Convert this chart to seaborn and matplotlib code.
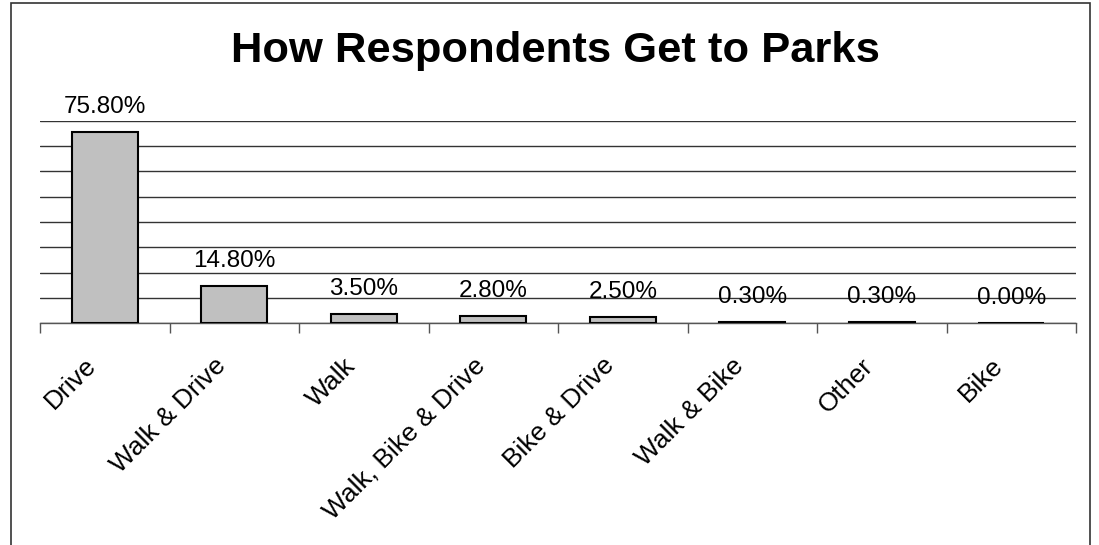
import numpy as np
import pandas as pd
import matplotlib
matplotlib.use("Agg")
import matplotlib.pyplot as plt
from matplotlib.patches import Rectangle
from matplotlib.transforms import ScaledTranslation
import seaborn as sns

categories = ["Drive", "Walk & Drive", "Walk", "Walk, Bike & Drive",
              "Bike & Drive", "Walk & Bike", "Other", "Bike"]
shares = [75.80, 14.80, 3.50, 2.80, 2.50, 0.30, 0.30, 0.00]
title = "How Respondents Get to Parks"

sns.set_theme(style="white")
plt.rcParams["font.family"] = ["Liberation Sans", "DejaVu Sans"]

W, H = 1099, 545
fig = plt.figure(figsize=(W / 100, H / 100), dpi=100)
fig.patch.set_facecolor("white")

# outer chart frame (runs past the lower edge)
fig.patches.append(Rectangle((11 / W, -0.05), (1090 - 11) / W, 1.05 - 3 / H,
                             transform=fig.transFigure, fill=False,
                             edgecolor="#333333", linewidth=1.2))

ax = fig.add_axes([40 / W, (H - 323) / H, (1076 - 40) / W, (323 - 121) / H])
df = pd.DataFrame({"mode": categories, "share": shares})
sns.barplot(data=df, x="mode", y="share", color="#C0C0C0", edgecolor="black",
            linewidth=1.5, width=0.51, saturation=1, ax=ax, zorder=3)

ax.set_ylim(0, 80)
ax.set_xlim(-0.5, len(categories) - 0.5)
ax.set_yticks(np.arange(0, 81, 10))
ax.set_yticklabels([])
ax.tick_params(axis="y", length=0)
ax.yaxis.grid(True, color="#333333", linewidth=1.0, zorder=0)
ax.xaxis.grid(False)
ax.set_axisbelow(True)
for side in ["left", "right", "top"]:
    ax.spines[side].set_visible(False)
ax.spines["bottom"].set_color("#555555")
ax.spines["bottom"].set_linewidth(1.0)

# category boundary ticks
ax.set_xticks(np.arange(-0.5, len(categories), 1), minor=True)
ax.tick_params(axis="x", which="minor", bottom=True, length=7, width=1,
               color="#555555", direction="out")
ax.set_xticks(np.arange(len(categories)))
ax.tick_params(axis="x", which="major", bottom=True, length=0, pad=28)
ax.set_xticklabels(categories, rotation=45, ha="right", va="center",
                   rotation_mode="anchor", fontsize=19, color="black")
shift = ScaledTranslation(-12 / 100, 0, fig.dpi_scale_trans)
for lab in ax.get_xticklabels():
    lab.set_transform(lab.get_transform() + shift)
ax.set_xlabel("")
ax.set_ylabel("")

ax.bar_label(ax.containers[0], labels=[f"{v:.2f}%" for v in shares],
             padding=10, fontsize=17.5, color="black")

fig.text(555 / W, 1 - 51 / H, title, ha="center", va="center",
         fontsize=31.3, fontweight="bold", color="black")

fig.savefig("out.png", dpi=100, facecolor="white")
